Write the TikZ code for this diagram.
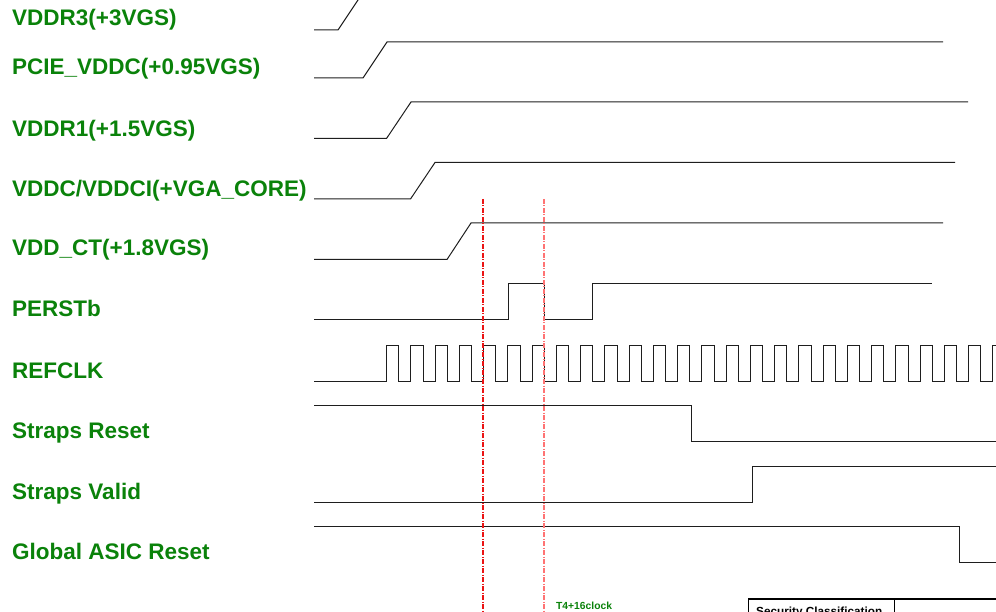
\documentclass[tikz,border=0pt]{standalone}
\usepackage{fontspec}
\setmainfont{Liberation Sans}
\definecolor{lblgreen}{RGB}{10,130,10}
\definecolor{sigline}{RGB}{30,30,30}
\definecolor{markred}{RGB}{235,20,20}
\tikzset{
  lbl/.style={anchor=base west, inner sep=0pt, text=lblgreen, font=\fontsize{22.5}{26}\selectfont\bfseries},
  sig/.style={draw=sigline, line width=1pt, line join=miter},
  mark1/.style={draw=markred, line width=1.2pt, dash pattern=on 5pt off 1.5pt on 1pt off 1.5pt},
  mark2/.style={draw=red!55, line width=1.1pt, dash pattern=on 5pt off 1.5pt on 1pt off 1.5pt},
  boxline/.style={draw=black, line width=1.4pt}
}
\begin{document}
\begin{tikzpicture}[x=1pt,y=-1pt]
\useasboundingbox (0,0) rectangle (996,612);
\clip (0,0) rectangle (996,612);

% labels
\node[lbl] (l1) at (12,26) {VDDR3(+3VGS)};
\node[lbl] (l2) at (12,75) {PCIE\_VDDC(+0.95VGS)};
\node[lbl] (l3) at (12,137) {VDDR1(+1.5VGS)};
\node[lbl] (l4) at (12,196.5) {VDDC/VDDCI(+VGA\_CORE)};
\node[lbl] (l5) at (12,256) {VDD\_CT(+1.8VGS)};
\node[lbl] (l6) at (12,317) {PERSTb};
\node[lbl] (l7) at (12,378) {REFCLK};
\node[lbl] (l8) at (12,438) {Straps Reset};
\node[lbl] (l9) at (12,499) {Straps Valid};
\node[lbl] (l10) at (12,559) {Global ASIC Reset};

% power ramps
\draw[sig] (314,30) -- (338,30) -- (362,-6) -- (950,-6);
\draw[sig] (314,78) -- (363,78) -- (387,42) -- (943,42);
\draw[sig] (314,138.5) -- (386.5,138.5) -- (411,102) -- (968,102);
\draw[sig] (314,199) -- (410.5,199) -- (435,162.5) -- (955,162.5);
\draw[sig] (314,259.5) -- (447,259.5) -- (471,223) -- (943,223);

% PERSTb
\draw[sig] (314,320) -- (508,320) -- (508,284) -- (544,284) -- (544,320) -- (592,320) -- (592,284) -- (931.5,284);

% REFCLK
\draw[sig] (314,381) -- (386.7,381)
  foreach \k in {0,...,25} { -- ++(0,-36) -- ++(12.125,0) -- ++(0,36) -- ++(12.125,0) };

% Straps / reset
\draw[sig] (314,405) -- (691.5,405) -- (691.5,441.5) -- (1000,441.5);
\draw[sig] (314,502) -- (752.5,502) -- (752.5,466) -- (1000,466);
\draw[sig] (314,526) -- (959,526) -- (959,562.5) -- (1000,562.5);

% marker lines
\coordinate (m1t) at (483,199);
\coordinate (m1b) at (483,612);
\coordinate (m2t) at (544,199);
\coordinate (m2b) at (544,612);
\draw[mark1] (m1t) -- (m1b);
\draw[mark2] (m2t) -- (m2b);

\node[anchor=base west, inner sep=0pt, text=lblgreen, font=\fontsize{10.3}{12}\selectfont\bfseries] (t4) at (556,609) {T4+16clock};

% title block corner
\draw[boxline] (748.5,620) -- (748.5,599) -- (1000,599);
\draw[boxline] (894.3,599) -- (894.3,620);
\node[anchor=base west, inner sep=0pt, font=\fontsize{11.75}{14}\selectfont\bfseries] (sc) at (756,615.5) {Security Classification};
\end{tikzpicture}
\end{document}
